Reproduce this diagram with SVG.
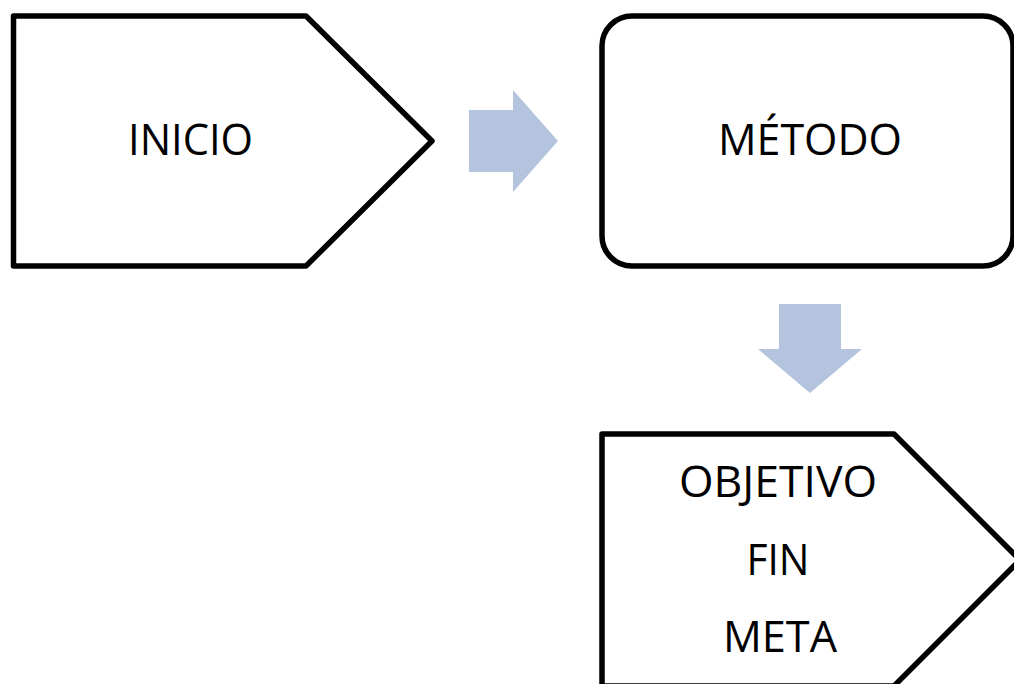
<svg xmlns="http://www.w3.org/2000/svg" width="1014" height="684" viewBox="0 0 1014 684">
<style>
.shape{fill:#ffffff;stroke:#000000;stroke-width:5.5;stroke-linejoin:round}
.arrow{fill:#B4C3DE;stroke:none}
.lbl{font-family:"Open Sans","Liberation Sans",sans-serif;font-size:43px;fill:#000000;text-anchor:middle}
</style>
<rect width="1014" height="684" fill="#ffffff"/>
<g id="inicio">
<polygon class="shape" points="13.5,16 306,16 432,141 306,266 13.5,266"/>
<text class="lbl" x="190.5" y="155" textLength="125" lengthAdjust="spacingAndGlyphs">INICIO</text>
</g>
<g id="metodo">
<rect class="shape" x="602" y="16" width="411" height="250" rx="30" ry="30"/>
<text class="lbl" x="810" y="155" textLength="184" lengthAdjust="spacingAndGlyphs">MÉTODO</text>
</g>
<g id="objetivo">
<polygon class="shape" points="602,434 894,434 1020,560 894,686 602,686"/>
<text class="lbl" x="778" y="497" textLength="198" lengthAdjust="spacingAndGlyphs">OBJETIVO</text>
<text class="lbl" x="778" y="575" textLength="63" lengthAdjust="spacingAndGlyphs">FIN</text>
<text class="lbl" x="780" y="652" textLength="114" lengthAdjust="spacingAndGlyphs">META</text>
</g>
<g id="connectors">
<polygon class="arrow" points="469,110 513,110 513,90 558,141 513,192 513,172 469,172"/>
<polygon class="arrow" points="779,304 841,304 841,349 862,349 810,393 758,349 779,349"/>
</g>
</svg>
